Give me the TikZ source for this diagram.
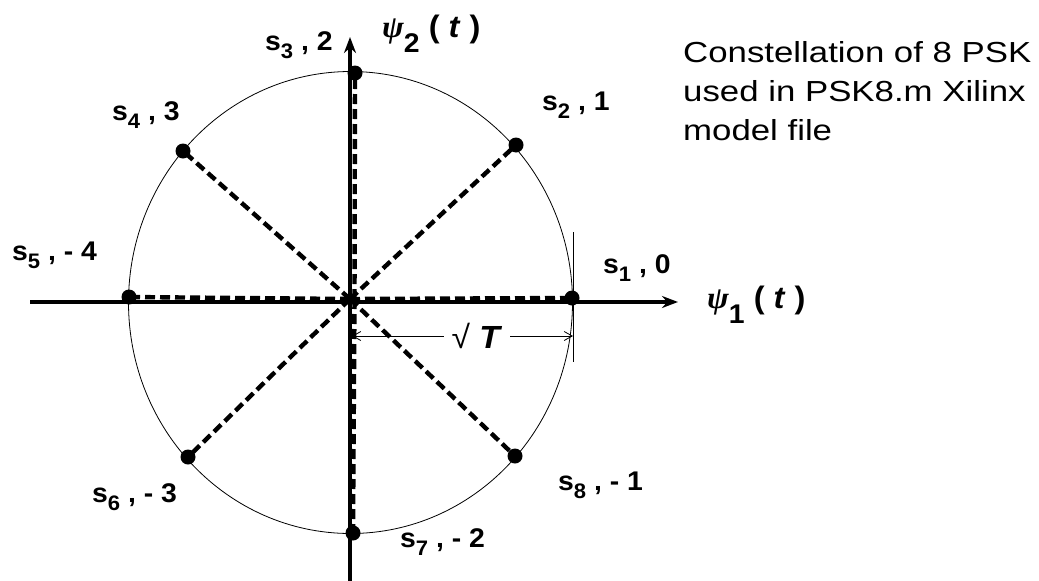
\documentclass[tikz,border=0pt]{standalone}
\usepackage{fontspec}
\setmainfont{Liberation Sans}[FakeStretch=1.05]
\newfontfamily\notefont{Liberation Sans}[FakeStretch=1.2]
\newfontfamily\grkfont{Liberation Serif}[FakeStretch=1.05]
\usetikzlibrary{arrows.meta}
\newcommand\sbx[2][-8pt]{\raisebox{#1}{\fontsize{21}{22}\selectfont #2}}
\begin{document}
\begin{tikzpicture}[x=1pt,y=-1pt,
 dot/.style={circle,fill=black,inner sep=0pt,minimum size=15pt},
 lbl/.style={anchor=base west,inner sep=0pt,font=\fontsize{27}{30}\selectfont\bfseries},
 axislbl/.style={anchor=base west,inner sep=0pt,font=\fontsize{31}{34}\selectfont\bfseries},
 axisline/.style={line width=3.8pt,-{Stealth[length=16pt,width=12pt]}},
 spoke/.style={line width=4.4pt,dash pattern=on 10pt off 5pt},
 dim/.style={line width=0.8pt,{Straight Barb[length=8pt,width=9pt]}-{Straight Barb[length=8pt,width=9pt]}},
 thin/.style={line width=0.8pt},
 note/.style={anchor=base west,inner sep=0pt,align=left,font=\notefont\fontsize{29}{39}\selectfont}]
\useasboundingbox (0,0) rectangle (1039,581);
% circle
\draw[thin] (350.5,302.5) ellipse [x radius=222, y radius=231];
% axes
\coordinate (hl) at (30,302);
\coordinate (hr) at (678,302);
\coordinate (vb) at (350,581);
\coordinate (vt) at (350,37);
\draw[axisline] (hl) -- (hr);
\draw[axisline] (vb) -- (vt);
% center and points
\coordinate (c) at (350,299);
\node[dot] (p1) at (572,298) {};
\node[dot] (p2) at (516,145) {};
\node[dot] (p3) at (355,73) {};
\node[dot] (p4) at (183,151) {};
\node[dot] (p5) at (129,297) {};
\node[dot] (p6) at (188,457) {};
\node[dot] (p7) at (353,533) {};
\node[dot] (p8) at (515,456) {};
\coordinate (cv) at (354.5,299);
\draw[spoke] (c) -- (p1.center);
\draw[spoke] (c) -- (p2.center);
\draw[spoke] (cv) -- (p3.center);
\draw[spoke] (c) -- (p4.center);
\draw[spoke] (c) -- (p5.center);
\draw[spoke] (c) -- (p6.center);
\draw[spoke] (cv) -- (p7.center);
\draw[spoke] (c) -- (p8.center);
% dimension
\coordinate (tt) at (573,232);
\coordinate (tb) at (573,362);
\draw[thin] (tt) -- (tb);
\coordinate (da) at (352,336);
\coordinate (db) at (573,336);
\draw[dim] (da) -- (db) node[pos=0.565,fill=white,inner xsep=8pt,inner ysep=2pt,font=\fontsize{32}{34}\selectfont\bfseries] (dl) {\textmd{√}\ \textit{T}};
% labels
\node[lbl] (l3) at (265,50) {s\sbx{3} , 2};
\node[lbl] (l2) at (542,110) {s\sbx{2} , 1};
\node[lbl] (l4) at (112,120) {s\sbx{4} , 3};
\node[lbl] (l5) at (12,260) {s\sbx{5} , - 4};
\node[lbl] (l1) at (603,273) {s\sbx{1} , 0};
\node[lbl] (l6) at (92,502) {s\sbx{6} , - 3};
\node[lbl] (l8) at (558,490) {s\sbx{8} , - 1};
\node[lbl] (l7) at (400,547) {s\sbx{7} , - 2};
\node[axislbl] (psi2) at (382,37) {{\grkfont\itshape\bfseries ψ}\sbx[-15pt]{\fontsize{27}{28}\selectfont 2} ( \textit{t} )};
\node[axislbl] (psi1) at (707,308) {{\grkfont\itshape\bfseries ψ}\sbx[-15pt]{\fontsize{27}{28}\selectfont 1} ( \textit{t} )};
\node[note] (txt) at (683,140) {Constellation of 8 PSK\\used in PSK8.m Xilinx\\model file};
\end{tikzpicture}
\end{document}
